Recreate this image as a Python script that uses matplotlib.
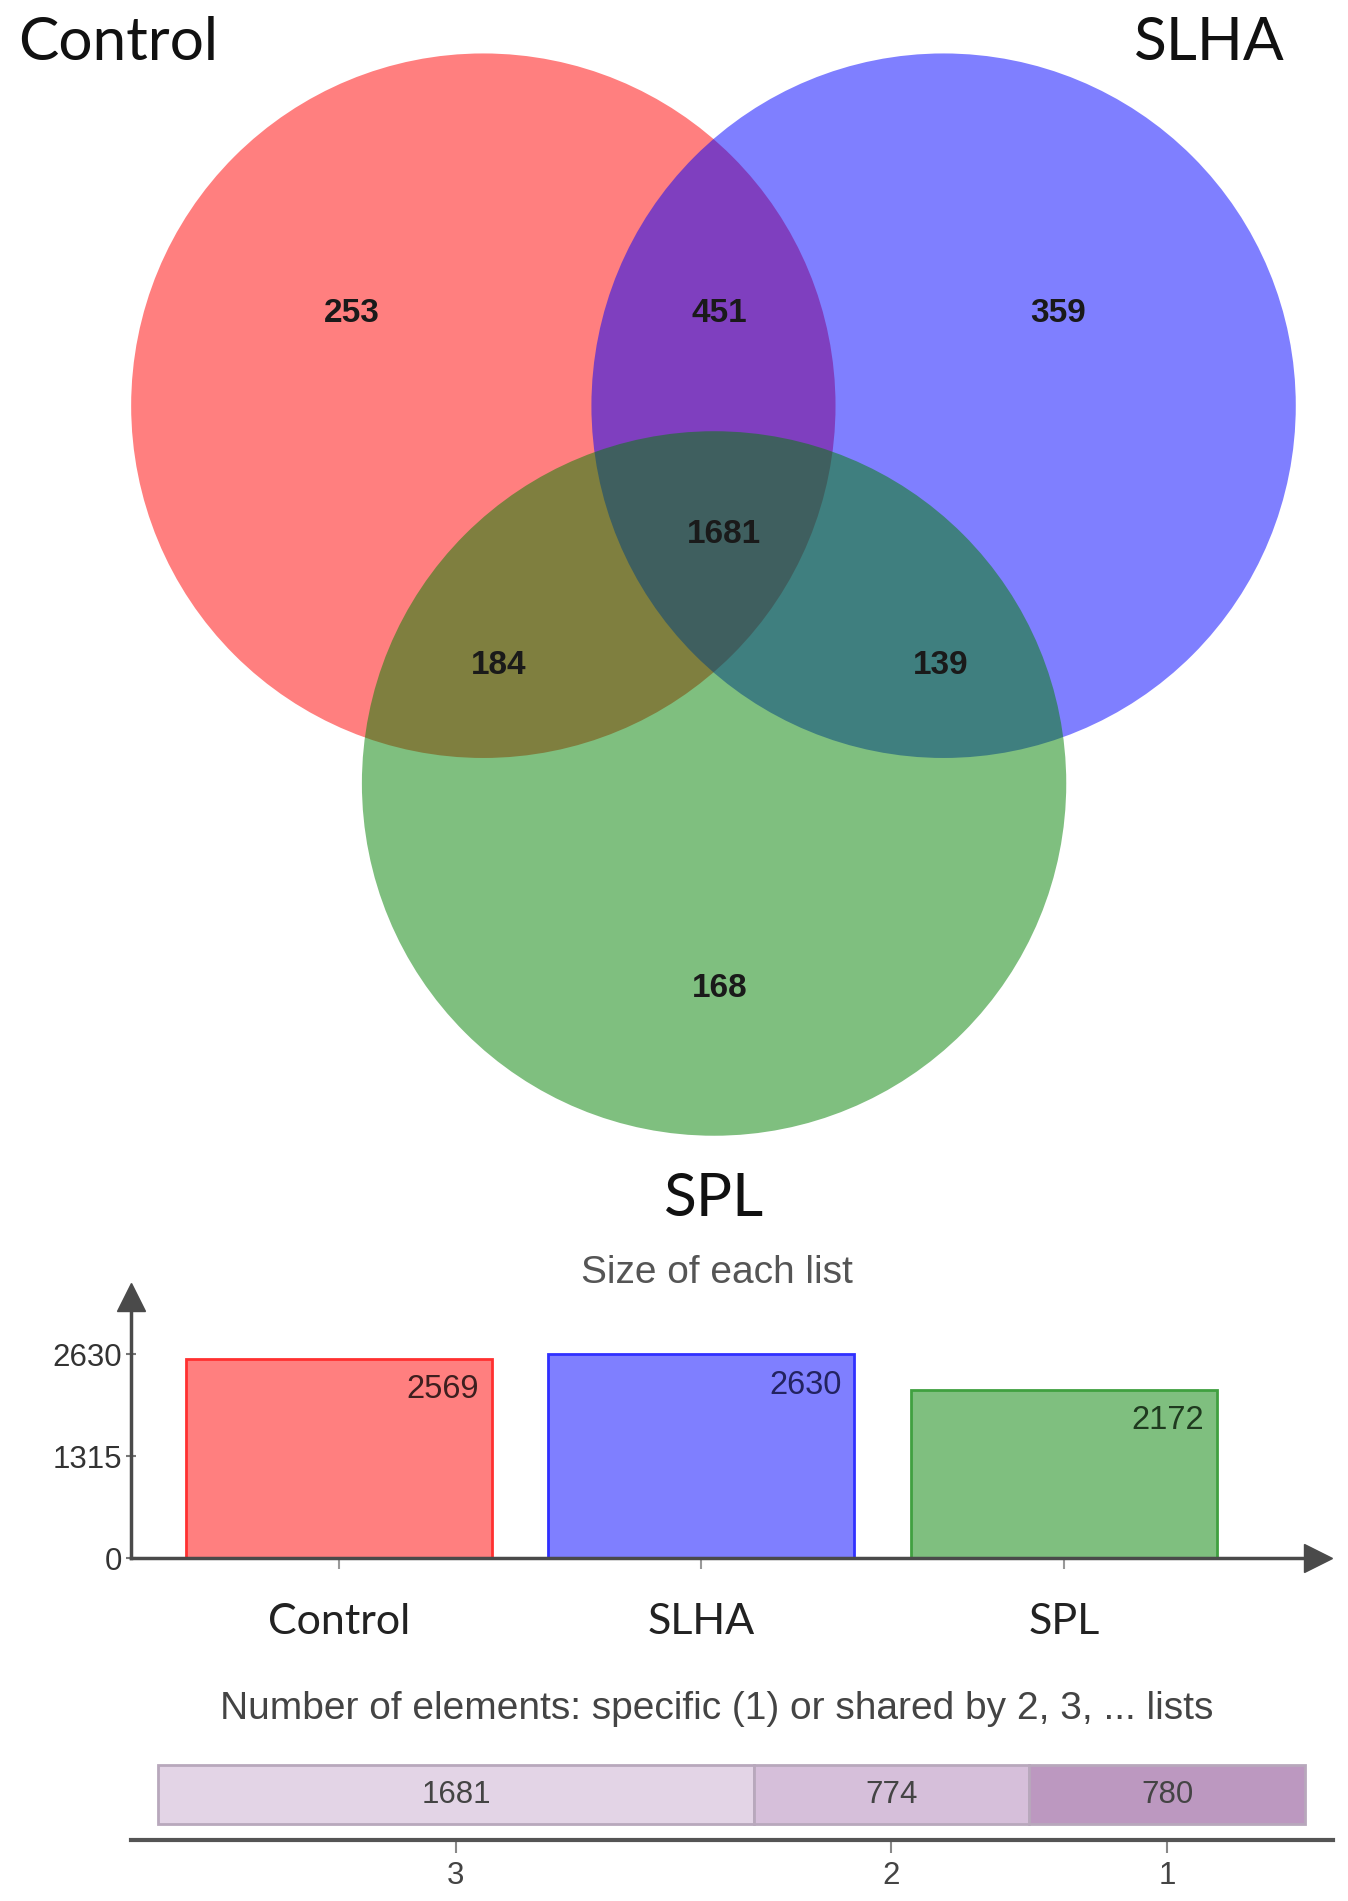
import numpy as np
import matplotlib
matplotlib.use("Agg")
import matplotlib.pyplot as plt
from matplotlib.patches import Circle

# data
set_names = ["Control", "SLHA", "SPL"]
region_labels = ["253", "451", "359", "1681", "184", "139", "168"]
list_sizes = [2569, 2630, 2172]
size_ticks = [0, 1315, 2630]
shared_counts = [1681, 774, 780]
shared_labels = ["3", "2", "1"]

# layout in reference pixel units (1110 x 1565 grid)
W, H = 1110.0, 1565.0

def fx(x):
    return x / W

def fy(y):
    return 1 - y / H

fig = plt.figure(figsize=(13.48, 19.01), dpi=100)
fig.patch.set_facecolor("white")

# ---------------- Venn diagram ----------------
ax = fig.add_axes([0, 0, 1, 1])
ax.set_xlim(0, W)
ax.set_ylim(H, 0)
ax.axis("off")

circles = [((398, 334), "#FF0000"), ((777, 334), "#0000FF"), ((588, 645), "#008000")]
for (c, col) in circles:
    ax.add_patch(Circle(c, 290, facecolor=col, alpha=0.5, edgecolor="none"))

label_pos = [(290, 258), (592, 258), (871, 258), (596, 440), (411, 548), (775, 548), (593, 814)]
for (x, y), t in zip(label_pos, region_labels):
    ax.text(x, y, t, ha="center", va="center", fontsize=24, fontweight="bold",
            family="Liberation Sans", color="#1a1a1a")

venn_font = "Lato"
ax.text(15, 35, set_names[0], ha="left", va="center", fontsize=43.5, family=venn_font, color="#111111")
ax.text(1058, 35, set_names[1], ha="right", va="center", fontsize=43.5, family=venn_font, color="#111111")
ax.text(588, 987, set_names[2], ha="center", va="center", fontsize=43.5, family=venn_font, color="#111111")

# ---------------- Size of each list ----------------
fig.text(fx(590), fy(1048), "Size of each list", ha="center", va="center",
         fontsize=28, family="Liberation Sans", color="#555555")

bx = fig.add_axes([fx(108), fy(1283), (1085 - 108) / W, (1283 - 1068) / H])
xpos = np.arange(len(set_names))
fills = ["#FF7F7F", "#7F7FFF", "#7FBF7F"]
edges = ["#FF3030", "#3030FF", "#40A040"]
txtcol = ["#3d1f1f", "#232360", "#1f3a1f"]
bars = bx.bar(xpos, list_sizes, width=0.844, color=fills, edgecolor=edges, linewidth=2)
for b, v, tc in zip(bars, list_sizes, txtcol):
    bx.annotate(str(v), (b.get_x() + b.get_width(), v), xytext=(-9, -11),
                textcoords="offset points", ha="right", va="top",
                fontsize=23.5, family="Liberation Sans", color=tc)

bx.set_xlim(-0.573, 2.70)
bx.set_ylim(0, 3366)
for s in ["top", "right"]:
    bx.spines[s].set_visible(False)
for s in ["left", "bottom"]:
    bx.spines[s].set_color("#4a4a4a")
    bx.spines[s].set_linewidth(2.5)
bx.set_yticks(size_ticks)
bx.set_yticklabels([str(t) for t in size_ticks], fontsize=22.5, family="Liberation Sans", color="#333333")
bx.tick_params(axis="y", direction="inout", length=7, width=1.5, color="#777777", pad=3)
bx.set_xticks(xpos)
bx.set_xticklabels(set_names, fontsize=31, family=venn_font, color="#222222")
bx.tick_params(axis="x", direction="out", length=8, width=1.5, color="#999999", pad=24)
bx.plot(0, 1, "^", color="#4a4a4a", markersize=20, transform=bx.transAxes, clip_on=False)
bx.plot(1, 0, ">", color="#4a4a4a", markersize=20, transform=bx.transAxes, clip_on=False)
bx.set_facecolor("none")

# ---------------- shared elements strip ----------------
fig.text(fx(590), fy(1407), "Number of elements: specific (1) or shared by 2, 3, ... lists",
         ha="center", va="center", fontsize=28, family="Liberation Sans", color="#444444")

sx = fig.add_axes([fx(108), fy(1515), (1098 - 108) / W, (1515 - 1448) / H])
lefts = np.concatenate([[0], np.cumsum(shared_counts)[:-1]])
strip_cols = ["#E3D4E6", "#D6BFDA", "#BC98C0"]
sx.barh(0.56, shared_counts, left=lefts, height=0.72, color=strip_cols,
        edgecolor="#b8a8bc", linewidth=2)
for l, v in zip(lefts, shared_counts):
    sx.text(l + v / 2, 0.56, str(v), ha="center", va="center", fontsize=22.5,
            family="Liberation Sans", color="#444444")
sx.set_xlim(-75, 3314)
sx.set_ylim(0, 1)
for s in ["top", "right", "left"]:
    sx.spines[s].set_visible(False)
sx.spines["bottom"].set_color("#555555")
sx.spines["bottom"].set_linewidth(3)
sx.set_yticks([])
sx.set_xticks(lefts + np.array(shared_counts) / 2)
sx.set_xticklabels(shared_labels, fontsize=22.5, family="Liberation Sans", color="#444444")
sx.tick_params(axis="x", direction="out", length=9, width=1.5, color="#888888", pad=6)
sx.set_facecolor("none")

fig.savefig("out.png", dpi=100, facecolor="white")
